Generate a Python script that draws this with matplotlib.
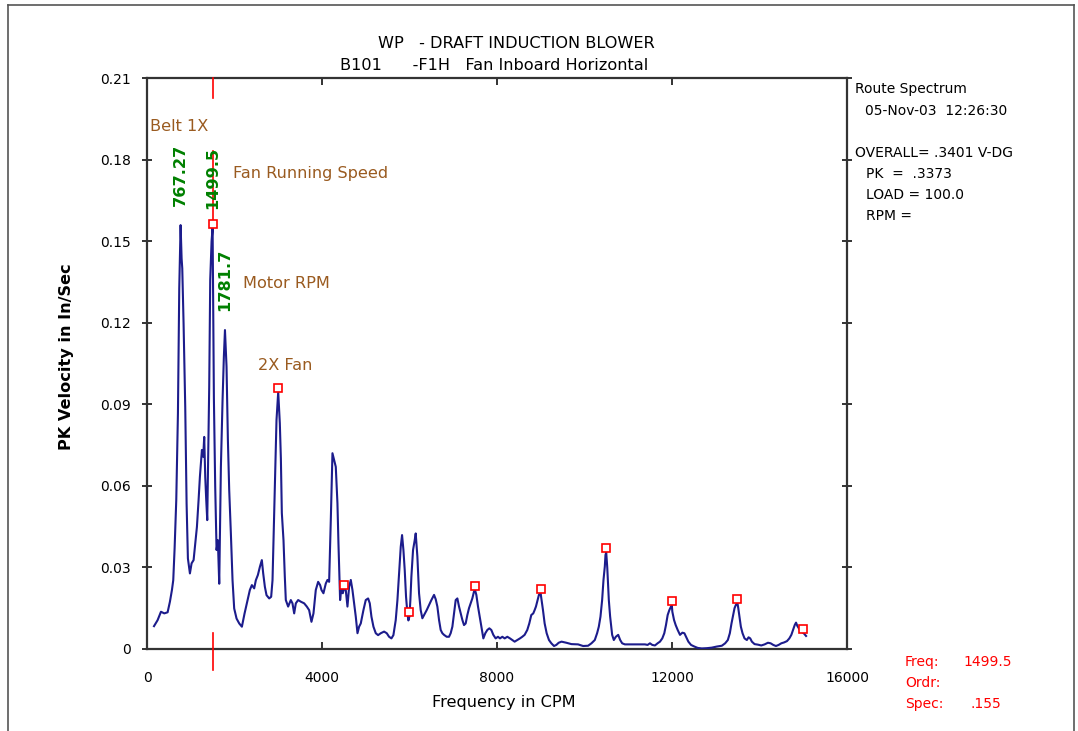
import numpy as np
import matplotlib
matplotlib.use("Agg")
import matplotlib.pyplot as plt
import matplotlib.transforms as mtransforms
from matplotlib.lines import Line2D

# ---------------- data ----------------
freq_cpm = [
    160, 242, 319, 395, 471, 524, 570, 600, 631, 669, 707, 737, 768, 791, 806, 836, 874, 905, 935,
    981, 1019, 1065, 1103, 1141, 1179, 1209, 1255, 1285, 1308, 1331, 1354, 1377, 1400, 1422, 1445,
    1476, 1499.5, 1529, 1559, 1590, 1620, 1651, 1689, 1727, 1757, 1782, 1818, 1849, 1879, 1917,
    1955, 1993, 2047, 2108, 2169, 2229, 2298, 2351, 2397, 2450, 2488, 2534, 2580, 2625, 2656,
    2694, 2732, 2793, 2838, 2869, 2899, 2930, 2960, 2999, 3036, 3060, 3082, 3120, 3150, 3173,
    3226, 3287, 3325, 3364, 3402, 3455, 3516, 3592, 3653, 3706, 3759, 3805, 3858, 3912, 3957,
    3988, 4033, 4087, 4125, 4163, 4201, 4239, 4277, 4315, 4353, 4376, 4399, 4414, 4445, 4475,
    4498.5, 4543, 4582, 4620, 4658, 4696, 4734, 4772, 4811, 4848, 4886, 4947, 5000, 5054, 5092,
    5130, 5176, 5229, 5282, 5343, 5419, 5480, 5533, 5587, 5632, 5685, 5724, 5762, 5800, 5830,
    5861, 5891, 5921, 5952, 5975, 5998, 6020, 6043, 6081, 6119, 6142, 6180, 6218, 6256, 6294,
    6333, 6393, 6447, 6500, 6561, 6599, 6637, 6675, 6713, 6751, 6789, 6850, 6903, 6941, 6980,
    7018, 7056, 7094, 7132, 7170, 7208, 7246, 7284, 7322, 7360, 7398, 7436, 7474, 7497.5, 7528,
    7566, 7604, 7642, 7688, 7733, 7779, 7825, 7870, 7916, 7969, 8022, 8068, 8122, 8175, 8236,
    8297, 8350, 8403, 8464, 8525, 8578, 8631, 8692, 8738, 8784, 8829, 8860, 8890, 8928, 8960,
    8997, 9051, 9089, 9135, 9188, 9242, 9303, 9356, 9410, 9475, 9585, 9700, 9853, 9968, 10082,
    10159, 10235, 10288, 10327, 10365, 10403, 10434, 10464, 10480, 10496.5, 10520, 10533, 10556,
    10586, 10632, 10670, 10716, 10770, 10816, 10861, 10923, 11075, 11228, 11381, 11442, 11496,
    11549, 11610, 11671, 11725, 11778, 11824, 11862, 11901, 11939, 11977, 11996, 12008, 12046,
    12084, 12130, 12183, 12237, 12283, 12321, 12374, 12435, 12512, 12588, 12680, 12795, 12909,
    13024, 13139, 13215, 13276, 13322, 13360, 13398, 13429, 13459, 13495.5, 13515, 13536, 13574,
    13612, 13658, 13711, 13750, 13788, 13826, 13887, 13964, 14040, 14117, 14193, 14254, 14315,
    14376, 14437, 14499, 14560, 14628, 14682, 14728, 14766, 14805, 14835, 14865, 14911, 14957,
    14995, 15011, 15064,
]
pk_velocity = [
    0.0084, 0.0106, 0.0137, 0.0131, 0.0135, 0.0174, 0.0217, 0.0253, 0.0370, 0.0548, 0.0866,
    0.1326, 0.1559, 0.1436, 0.1400, 0.1197, 0.0890, 0.0535, 0.0333, 0.0278, 0.0315, 0.0327,
    0.0388, 0.0449, 0.0548, 0.0633, 0.0732, 0.0707, 0.0780, 0.0633, 0.0548, 0.0474, 0.0719,
    0.0964, 0.1357, 0.1500, 0.1550, 0.0922, 0.0597, 0.0364, 0.0400, 0.0240, 0.0670, 0.0915,
    0.1075, 0.1173, 0.1038, 0.0768, 0.0585, 0.0425, 0.0253, 0.0149, 0.0112, 0.0094, 0.0082,
    0.0130, 0.0180, 0.0217, 0.0235, 0.0223, 0.0253, 0.0272, 0.0302, 0.0327, 0.0278, 0.0229,
    0.0198, 0.0186, 0.0192, 0.0253, 0.0449, 0.0646, 0.0842, 0.0945, 0.0830, 0.0700, 0.0500,
    0.0400, 0.0266, 0.0180, 0.0156, 0.0180, 0.0168, 0.0131, 0.0168, 0.0180, 0.0174, 0.0168,
    0.0156, 0.0143, 0.0100, 0.0131, 0.0217, 0.0247, 0.0235, 0.0217, 0.0205, 0.0241, 0.0254,
    0.0247, 0.0474, 0.0720, 0.0695, 0.0670, 0.0536, 0.0389, 0.0260, 0.0180, 0.0229, 0.0205,
    0.0220, 0.0217, 0.0156, 0.0229, 0.0254, 0.0217, 0.0168, 0.0119, 0.0058, 0.0082, 0.0094,
    0.0143, 0.0180, 0.0186, 0.0168, 0.0119, 0.0082, 0.0058, 0.0051, 0.0058, 0.0064, 0.0058,
    0.0045, 0.0039, 0.0051, 0.0106, 0.0180, 0.0278, 0.0376, 0.0419, 0.0364, 0.0290, 0.0192,
    0.0131, 0.0105, 0.0120, 0.0180, 0.0266, 0.0364, 0.0400, 0.0425, 0.0340, 0.0205, 0.0143,
    0.0113, 0.0125, 0.0143, 0.0162, 0.0180, 0.0199, 0.0183, 0.0156, 0.0107, 0.0070, 0.0058,
    0.0052, 0.0045, 0.0045, 0.0058, 0.0082, 0.0131, 0.0180, 0.0186, 0.0156, 0.0131, 0.0107,
    0.0088, 0.0094, 0.0125, 0.0150, 0.0168, 0.0186, 0.0211, 0.0217, 0.0199, 0.0156, 0.0119,
    0.0082, 0.0039, 0.0058, 0.0070, 0.0076, 0.0070, 0.0052, 0.0039, 0.0045, 0.0039, 0.0045,
    0.0039, 0.0045, 0.0039, 0.0033, 0.0027, 0.0033, 0.0039, 0.0045, 0.0052, 0.0070, 0.0094,
    0.0125, 0.0131, 0.0143, 0.0156, 0.0180, 0.0200, 0.0205, 0.0143, 0.0094, 0.0058, 0.0033,
    0.0021, 0.0011, 0.0015, 0.0023, 0.0027, 0.0023, 0.0018, 0.0017, 0.0011, 0.0012, 0.0021,
    0.0033, 0.0058, 0.0082, 0.0119, 0.0180, 0.0254, 0.0303, 0.0346, 0.0355, 0.0300, 0.0254,
    0.0180, 0.0119, 0.0052, 0.0033, 0.0045, 0.0052, 0.0033, 0.0021, 0.0017, 0.0017, 0.0017,
    0.0017, 0.0015, 0.0021, 0.0015, 0.0013, 0.0021, 0.0027, 0.0039, 0.0058, 0.0088, 0.0125,
    0.0143, 0.0156, 0.0160, 0.0137, 0.0107, 0.0088, 0.0070, 0.0052, 0.0060, 0.0058, 0.0045,
    0.0027, 0.0015, 0.0009, 0.0004, 0.0002, 0.0003, 0.0005, 0.0009, 0.0012, 0.0021, 0.0033,
    0.0058, 0.0094, 0.0125, 0.0150, 0.0162, 0.0170, 0.0150, 0.0125, 0.0082, 0.0058, 0.0039,
    0.0033, 0.0043, 0.0039, 0.0027, 0.0018, 0.0016, 0.0013, 0.0017, 0.0023, 0.0021, 0.0015,
    0.0011, 0.0015, 0.0021, 0.0024, 0.0029, 0.0039, 0.0052, 0.0070, 0.0088, 0.0097, 0.0085,
    0.0073, 0.0064, 0.0060, 0.0058, 0.0048,
]

fan_speed_cpm = 1499.5
harmonic_orders = [1, 2, 3, 4, 5, 6, 7, 8, 9, 10]

peak_label_text = ["767.27", "1499.5", "1781.7"]
peak_label_freq = [767.27, 1499.5, 1781.7]
peak_label_amp = [0.1559, 0.1550, 0.1173]

fault_label_text = ["Belt 1X", "Fan Running Speed", "Motor RPM", "2X Fan"]
fault_label_freq = [80, 1976, 2204, 2547]
fault_label_amp = [0.192, 0.175, 0.1346, 0.1044]

title_lines = ["WP   - DRAFT INDUCTION BLOWER", "B101      -F1H   Fan Inboard Horizontal"]
info_lines = ["Route Spectrum", "05-Nov-03  12:26:30", "OVERALL= .3401 V-DG",
              "PK  =  .3373", "LOAD = 100.0", "RPM ="]
cursor_keys = ["Freq:", "Ordr:", "Spec:"]
cursor_vals = ["1499.5", "", ".155"]

y_ticks = [0, 0.03, 0.06, 0.09, 0.12, 0.15, 0.18, 0.21]
y_tick_labels = ["0", "0.03", "0.06", "0.09", "0.12", "0.15", "0.18", "0.21"]
x_ticks = [0, 4000, 8000, 12000, 16000]
x_tick_labels = ["0", "4000", "8000", "12000", "16000"]

# ---------------- figure ----------------
W, H = 1078, 731
fig = plt.figure(figsize=(W / 100, H / 100), dpi=100)
plt.rcParams["font.family"] = ["DejaVu Sans"]
BIG = 11.6

def fx(px):
    return px / W

def fy(py):
    return 1 - py / H

ax = fig.add_axes([fx(147), fy(649), fx(847) - fx(147), fy(78) - fy(649)])
ax.set_xlim(0, 16000)
ax.set_ylim(0, 0.21)

line_col = "#1c1c8c"
ax.plot(freq_cpm, pk_velocity, color=line_col, lw=1.5, zorder=3)

# harmonic markers of fan speed
h_freq = [fan_speed_cpm * n for n in harmonic_orders]
h_amp = np.interp(h_freq, freq_cpm, pk_velocity)
mk_trans = mtransforms.offset_copy(ax.transData, fig=fig, x=0, y=4, units="dots")
ax.plot(h_freq, h_amp, ls="none", marker="s", ms=6, mfc="white", mec="red",
        mew=1.2, transform=mk_trans, zorder=5, clip_on=False)

# cursor line
bt = mtransforms.blended_transform_factory(ax.transData, ax.transAxes)
ax.plot([fan_speed_cpm, fan_speed_cpm], [1.0, 0.965], color="red", lw=1.2, transform=bt, clip_on=False, zorder=4)
ax.plot([fan_speed_cpm, fan_speed_cpm], [0.028, -0.037], color="red", lw=1.2, transform=bt, clip_on=False, zorder=4)
ax.plot([fan_speed_cpm, fan_speed_cpm], [0.155, 0.183], color="red", lw=1.2, zorder=2)

# peak labels
lbl_trans = mtransforms.offset_copy(ax.transData, fig=fig, x=0, y=19, units="dots")
for t, f, a in zip(peak_label_text, peak_label_freq, peak_label_amp):
    ax.text(f, a, t, rotation=90, ha="center", va="bottom", color="#008000",
            fontsize=BIG, fontweight="bold", transform=lbl_trans, zorder=6)

brown = "#9a5b20"
for t, f, a in zip(fault_label_text, fault_label_freq, fault_label_amp):
    ax.text(f, a, t, ha="left", va="center", color=brown, fontsize=BIG, zorder=6)

# axes styling
spine_col = "#333333"
for s in ax.spines.values():
    s.set_color(spine_col)
    s.set_linewidth(1.6)
ax.set_yticks(y_ticks)
ax.set_yticklabels(y_tick_labels)
ax.set_xticks(x_ticks)
ax.set_xticklabels(x_tick_labels)
ax.tick_params(axis="y", which="both", left=True, right=True, direction="inout",
               length=7, width=1.4, color=spine_col, labelsize=10, pad=8)
ax.tick_params(axis="x", which="both", bottom=True, top=True, direction="in",
               length=5, width=1.4, color=spine_col, labelsize=10, pad=16)

fig.text(fx(66), fy(357), "PK Velocity in In/Sec", rotation=90, ha="center", va="center",
         fontsize=BIG, fontweight="bold")
fig.text(fx(504), fy(702), "Frequency in CPM", ha="center", va="center", fontsize=BIG)

# titles
fig.text(fx(378), fy(44), title_lines[0], ha="left", va="center", fontsize=BIG)
fig.text(fx(340), fy(65), title_lines[1], ha="left", va="center", fontsize=BIG)

# info block
info_x = [855, 865, 855, 866, 866, 866]
info_y = [89, 111, 153, 174, 195, 216]
for t, x, y in zip(info_lines, info_x, info_y):
    fig.text(fx(x), fy(y), t, ha="left", va="center", fontsize=10)

# cursor readout
for k, v, y in zip(cursor_keys, cursor_vals, [662, 683, 704]):
    fig.text(fx(905), fy(y), k, ha="left", va="center", fontsize=10, color="red")
    if v:
        fig.text(fx(963 if v.startswith("1") else 971), fy(y), v, ha="left", va="center",
                 fontsize=10, color="red")

# outer frame
frame_col = "#555555"
fig.add_artist(Line2D([fx(8), fx(1074)], [fy(5), fy(5)], color=frame_col, lw=1.2))
fig.add_artist(Line2D([fx(8), fx(8)], [fy(5), 0], color=frame_col, lw=1.2))
fig.add_artist(Line2D([fx(1074), fx(1074)], [fy(5), 0], color=frame_col, lw=1.2))

fig.savefig("out.png", dpi=100)
